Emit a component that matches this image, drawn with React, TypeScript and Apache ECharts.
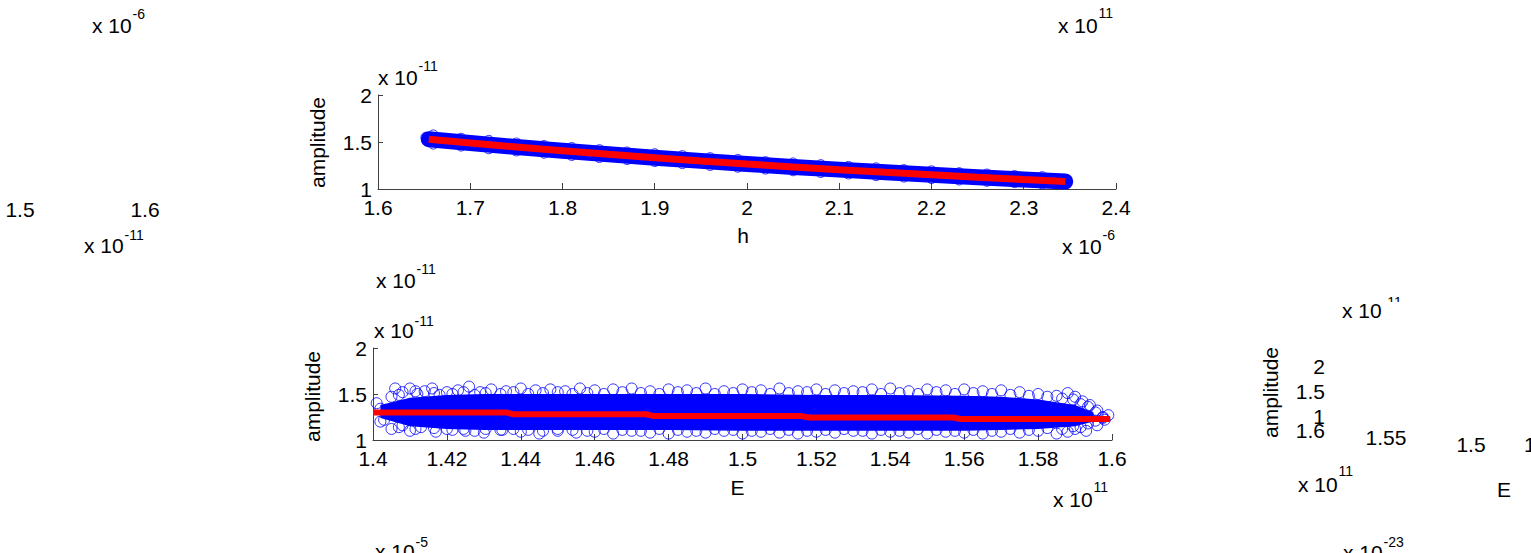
import React, { useEffect, useRef } from "react";
import * as echarts from "echarts";

// ---------- data: top panel (h, x 1e-6 ; amplitude, x 1e-11) ----------
const hLine = [1.655, 1.7, 1.75, 1.8, 1.85, 1.9, 1.95, 2.0, 2.05, 2.1, 2.15, 2.2, 2.25, 2.3, 2.345];
const ampLine = [1.53, 1.49, 1.447, 1.407, 1.369, 1.333, 1.299, 1.266, 1.235, 1.206, 1.178, 1.151, 1.125, 1.101, 1.08];

const hEdge = [1.66, 1.69, 1.72, 1.75, 1.78, 1.81, 1.84, 1.87, 1.9, 1.93, 1.96, 1.99, 2.02, 2.05, 2.08, 2.11, 2.14, 2.17, 2.2, 2.23, 2.26, 2.29, 2.32];
const ampUpper = [1.575, 1.540, 1.517, 1.489, 1.462, 1.441, 1.418, 1.393, 1.375, 1.355, 1.333, 1.314, 1.291, 1.277, 1.259, 1.240, 1.225, 1.206, 1.193, 1.173, 1.159, 1.143, 1.131];
const ampLower = [1.478, 1.457, 1.428, 1.405, 1.381, 1.357, 1.335, 1.314, 1.292, 1.270, 1.251, 1.232, 1.212, 1.194, 1.176, 1.160, 1.142, 1.127, 1.111, 1.096, 1.082, 1.068, 1.055];
const hEnds = [1.652, 1.655, 1.659, 2.336, 2.341, 2.345];
const ampEnds = [1.55, 1.51, 1.54, 1.1, 1.066, 1.085];

// ---------- data: bottom panel (E, x 1e11 ; amplitude, x 1e-11) ----------
const eLine = [1.4, 1.436, 1.438, 1.474, 1.476, 1.516, 1.518, 1.557, 1.559, 1.5995];
const aLine = [1.3, 1.3, 1.28, 1.28, 1.26, 1.26, 1.245, 1.245, 1.228, 1.228];

const bandE = [1.402, 1.41, 1.42, 1.43, 1.44, 1.46, 1.48, 1.5, 1.52, 1.54, 1.56, 1.57, 1.58, 1.59, 1.595];
const bandLo = [1.24, 1.15, 1.12, 1.11, 1.11, 1.11, 1.11, 1.1, 1.1, 1.1, 1.1, 1.11, 1.12, 1.15, 1.2];
const bandHi = [1.38, 1.46, 1.49, 1.5, 1.5, 1.5, 1.5, 1.5, 1.49, 1.49, 1.48, 1.47, 1.44, 1.38, 1.3];

const topE = [1.401, 1.402, 1.403, 1.405, 1.406, 1.408, 1.41, 1.412, 1.414, 1.416, 1.418, 1.42, 1.423, 1.426, 1.429, 1.432, 1.436, 1.44, 1.444, 1.448, 1.452, 1.456, 1.46, 1.465, 1.47, 1.475, 1.48, 1.485, 1.49, 1.495, 1.5, 1.505, 1.51, 1.515, 1.52, 1.525, 1.53, 1.535, 1.54, 1.545, 1.55, 1.555, 1.56, 1.565, 1.57, 1.575, 1.58, 1.585, 1.588, 1.59, 1.592, 1.594, 1.596];
const topA = [1.4, 1.34, 1.22, 1.47, 1.56, 1.52, 1.56, 1.5, 1.53, 1.56, 1.49, 1.52, 1.54, 1.58, 1.52, 1.55, 1.53, 1.56, 1.54, 1.55, 1.53, 1.56, 1.54, 1.55, 1.56, 1.53, 1.55, 1.54, 1.56, 1.53, 1.55, 1.54, 1.56, 1.53, 1.55, 1.54, 1.53, 1.55, 1.56, 1.53, 1.55, 1.54, 1.55, 1.53, 1.54, 1.52, 1.5, 1.48, 1.51, 1.47, 1.42, 1.38, 1.32];
const botE = [1.402, 1.405, 1.408, 1.41, 1.413, 1.417, 1.42, 1.425, 1.43, 1.435, 1.44, 1.445, 1.45, 1.455, 1.46, 1.465, 1.47, 1.475, 1.48, 1.485, 1.49, 1.495, 1.5, 1.505, 1.51, 1.515, 1.52, 1.525, 1.53, 1.535, 1.54, 1.545, 1.55, 1.555, 1.56, 1.565, 1.57, 1.575, 1.58, 1.585, 1.588, 1.59, 1.593, 1.596, 1.598, 1.599];
const botA = [1.2, 1.12, 1.16, 1.1, 1.14, 1.09, 1.12, 1.1, 1.08, 1.11, 1.09, 1.07, 1.1, 1.08, 1.09, 1.07, 1.1, 1.08, 1.07, 1.09, 1.08, 1.1, 1.07, 1.09, 1.08, 1.07, 1.09, 1.08, 1.1, 1.07, 1.09, 1.08, 1.07, 1.09, 1.08, 1.07, 1.09, 1.08, 1.1, 1.07, 1.09, 1.12, 1.1, 1.16, 1.22, 1.27];
const midE = [1.407, 1.4115, 1.4165, 1.4215, 1.4245, 1.4275, 1.4305, 1.4345, 1.438, 1.442, 1.446, 1.45, 1.454, 1.458, 1.4625, 1.4675, 1.4725, 1.4775, 1.4825, 1.4875, 1.4925, 1.4975, 1.5025, 1.5075, 1.5125, 1.5175, 1.5225, 1.5275, 1.5325, 1.5375, 1.5425, 1.5475, 1.5525, 1.5575, 1.5625, 1.5675, 1.5725, 1.5775, 1.5825, 1.5865, 1.5895, 1.5915, 1.5935, 1.5955, 1.5975];
const midTopA = [1.49, 1.53, 1.51, 1.5, 1.52, 1.49, 1.51, 1.5, 1.52, 1.5, 1.51, 1.52, 1.5, 1.51, 1.5, 1.52, 1.51, 1.5, 1.52, 1.51, 1.5, 1.51, 1.52, 1.5, 1.51, 1.52, 1.5, 1.51, 1.52, 1.5, 1.51, 1.5, 1.52, 1.5, 1.51, 1.5, 1.49, 1.48, 1.47, 1.45, 1.44, 1.39, 1.36, 1.3, 1.25];
const midBotA = [1.14, 1.12, 1.13, 1.11, 1.12, 1.1, 1.12, 1.11, 1.12, 1.11, 1.1, 1.12, 1.11, 1.1, 1.12, 1.11, 1.1, 1.12, 1.11, 1.1, 1.12, 1.11, 1.1, 1.12, 1.11, 1.1, 1.11, 1.12, 1.1, 1.11, 1.1, 1.12, 1.11, 1.1, 1.11, 1.1, 1.12, 1.11, 1.13, 1.12, 1.15, 1.14, 1.18, 1.21, 1.24];

// ---------- stray texts ----------
const expLabels = [
  { x: 92, y: 25, e: "-6", d: 11 },
  { x: 84, y: 245.5, e: "-11", d: 11 },
  { x: 1058, y: 25, e: "11", d: 12 },
  { x: 1062, y: 246, e: "-6", d: 11 },
  { x: 378, y: 77, e: "-11", d: 11 },
  { x: 376, y: 280, e: "-11", d: 11 },
  { x: 374, y: 330.5, e: "-11", d: 10 },
  { x: 1053, y: 499, e: "11", d: 12 },
  { x: 1342, y: 310, e: "-11", d: 8.5 },
  { x: 1298, y: 484, e: "11", d: 13 },
  { x: 375, y: 551, e: "-5", d: 9.5 },
  { x: 1343, y: 552, e: "-23", d: 10.5 },
];
const plainLabels = [
  { t: "1.5", x: 20, y: 209, a: "center" },
  { t: "1.6", x: 145, y: 209, a: "center" },
  { t: "h", x: 743, y: 235, a: "center" },
  { t: "E", x: 737.5, y: 487.5, a: "center" },
  { t: "E", x: 1504, y: 489, a: "center" },
  { t: "2", x: 1325, y: 366.5, a: "right" },
  { t: "1.5", x: 1325, y: 391.7, a: "right" },
  { t: "1", x: 1325, y: 416.5, a: "right" },
  { t: "1.6", x: 1325, y: 430.5, a: "right" },
  { t: "1.55", x: 1386, y: 437.5, a: "center" },
  { t: "1.5", x: 1471, y: 444, a: "center" },
  { t: "1.45", x: 1524, y: 444, a: "left" },
];
const yNames = [
  { x: 317, y: 142.5 },
  { x: 312, y: 396.5 },
  { x: 1270.5, y: 392.5 },
];

const FONT = '"Liberation Sans", Arial, Helvetica, sans-serif';
const AX = "#404040";

function buildGraphic() {
  const els: any[] = [];
  expLabels.forEach((l) => {
    els.push({ type: "text", x: l.x, y: l.y, z: 10, style: { text: "x 10", fontSize: 21, fontFamily: FONT, fill: "#000", align: "left", verticalAlign: "middle" } });
    els.push({ type: "text", x: l.x + 40.5, y: l.y - l.d, z: 10, style: { text: l.e, fontSize: 14, fontFamily: FONT, fill: "#000", align: "left", verticalAlign: "middle" } });
  });
  // clipped exponent on the right panel
  els.push({ type: "rect", z: 11, shape: { x: 1383, y: 302, width: 22, height: 7 }, style: { fill: "#fff" } });
  plainLabels.forEach((l) => {
    els.push({ type: "text", x: l.x, y: l.y, z: 10, style: { text: l.t, fontSize: 21, fontFamily: FONT, fill: "#000", align: l.a, verticalAlign: "middle" } });
  });
  yNames.forEach((l) => {
    els.push({ type: "text", x: l.x, y: l.y, rotation: Math.PI / 2, z: 10, style: { text: "amplitude", fontSize: 21, fontFamily: FONT, fill: "#000", align: "center", verticalAlign: "middle" } });
  });
  return els;
}

function xAxisCfg(gi: number, min: number, max: number, interval: number, dec: number) {
  return {
    gridIndex: gi, type: "value", min, max, interval,
    axisLine: { show: true, lineStyle: { color: AX, width: 1 } },
    axisTick: { show: true, inside: true, length: 6, lineStyle: { color: AX } },
    axisLabel: { color: "#000", fontSize: 21, fontFamily: FONT, margin: 8, formatter: (v: number) => String(+v.toFixed(dec)) },
    splitLine: { show: false },
  };
}
function yAxisCfg(gi: number) {
  return {
    gridIndex: gi, type: "value", min: 1, max: 2, interval: 0.5,
    axisLine: { show: true, lineStyle: { color: AX, width: 1 } },
    axisTick: { show: true, inside: true, length: 5, lineStyle: { color: AX } },
    axisLabel: { color: "#000", fontSize: 21, fontFamily: FONT, margin: 6, formatter: (v: number) => String(+v.toFixed(1)) },
    splitLine: { show: false },
  };
}

const circleStyle = { color: "rgba(0,0,0,0)", borderColor: "#0000ff", borderWidth: 1 };

export default function App() {
  const ref = useRef<HTMLDivElement>(null);
  useEffect(() => {
    if (!ref.current) return;
    const chart = echarts.init(ref.current, null, { renderer: "svg" });
    const topEdge = [
      ...hEdge.map((h, i) => [h, ampUpper[i]]),
      ...hEdge.map((h, i) => [h, ampLower[i]]),
      ...hEnds.map((h, i) => [h, ampEnds[i]]),
    ];
    const botEdge = [
      ...topE.map((e, i) => [e, topA[i]]),
      ...botE.map((e, i) => [e, botA[i]]),
      ...midE.map((e, i) => [e, midTopA[i]]),
      ...midE.map((e, i) => [e, midBotA[i]]),
    ];
    chart.setOption({
      animation: false,
      backgroundColor: "#fff",
      grid: [
        { left: 378, top: 95, width: 738, height: 94, containLabel: false },
        { left: 373, top: 348, width: 739, height: 92, containLabel: false },
      ],
      xAxis: [xAxisCfg(0, 1.6, 2.4, 0.1, 1), xAxisCfg(1, 1.4, 1.6, 0.02, 2)],
      yAxis: [yAxisCfg(0), yAxisCfg(1)],
      series: [
        {
          type: "line", xAxisIndex: 0, yAxisIndex: 0, z: 2, clip: false,
          data: hLine.map((h, i) => [h, ampLine[i]]), symbol: "none",
          lineStyle: { color: "#0000ff", width: 16, cap: "round", join: "round" },
        },
        {
          type: "scatter", xAxisIndex: 0, yAxisIndex: 0, z: 3, symbol: "circle", symbolSize: 10,
          data: topEdge, itemStyle: circleStyle,
        },
        {
          type: "line", xAxisIndex: 0, yAxisIndex: 0, z: 4, clip: false,
          data: hLine.map((h, i) => [h, ampLine[i]]), symbol: "none",
          lineStyle: { color: "#ff0000", width: 7 },
        },
        {
          type: "custom", xAxisIndex: 1, yAxisIndex: 1, z: 2,
          data: [[1.5, 1.3]],
          renderItem: (params: any, api: any) => {
            const up = bandE.map((e, i) => api.coord([e, bandHi[i]]));
            const lo = bandE.map((e, i) => api.coord([e, bandLo[i]])).reverse();
            return { type: "polygon", shape: { points: [...up, ...lo] }, style: { fill: "#0000ff" } };
          },
        },
        {
          type: "scatter", xAxisIndex: 1, yAxisIndex: 1, z: 3, symbol: "circle", symbolSize: 11,
          data: botEdge, itemStyle: circleStyle,
        },
        {
          type: "line", xAxisIndex: 1, yAxisIndex: 1, z: 4, clip: false,
          data: eLine.map((e, i) => [e, aLine[i]]), symbol: "none",
          lineStyle: { color: "#ff0000", width: 6 },
        },
      ],
      graphic: buildGraphic(),
    });
    return () => chart.dispose();
  }, []);
  return <div ref={ref} style={{ position: "absolute", left: 0, top: 0, width: 1531, height: 553 }} />;
}
